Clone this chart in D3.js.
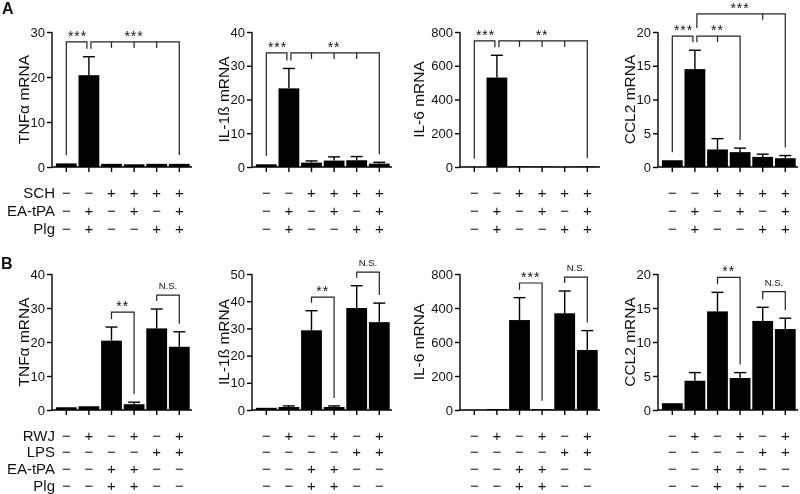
<!DOCTYPE html>
<html><head><meta charset="utf-8">
<script src="https://cdn.jsdelivr.net/npm/d3@7"></script>
<style>body{margin:0;background:#fff} svg{will-change:transform} svg text{font-family:Arial,"Liberation Sans",Helvetica,sans-serif;fill:#111}</style>
</head><body><svg id="c" width="800" height="494"></svg>
<script>
// ---------- data ----------
const genes = ["TNFα mRNA", "IL-1ß mRNA", "IL-6 mRNA", "CCL2 mRNA"];
const barIds = [0, 1, 2, 3, 4, 5];

// Panel A: means and upper error limits (mean + SEM)
const A_tnf  = [0.8, 20.4, 0.7, 0.6, 0.7, 0.7];
const A_tnfE = [0.85, 24.5, 0.8, 0.7, 0.8, 0.9];
const A_il1b  = [0.8, 23.3, 1.3, 1.9, 2.0, 1.0];
const A_il1bE = [0.9, 29.2, 1.8, 3.0, 3.1, 1.4];
const A_il6  = [1, 530, 4, 3, 2, 3];
const A_il6E = [1.5, 662, 6, 5, 3, 4];
const A_ccl2  = [1.0, 14.5, 2.6, 2.2, 1.5, 1.3];
const A_ccl2E = [1.0, 17.3, 4.2, 2.8, 1.9, 1.7];

// Panel B
const B_tnf  = [0.8, 1.1, 20.4, 1.7, 24.0, 18.6];
const B_tnfE = [0.8, 1.3, 24.4, 2.3, 29.7, 23.0];
const B_il1b  = [0.8, 1.1, 29.3, 1.1, 37.5, 32.3];
const B_il1bE = [0.8, 1.5, 36.5, 1.5, 45.7, 39.3];
const B_il6  = [1, 6, 529, 5, 569, 353];
const B_il6E = [1, 8, 661, 7, 700, 467];
const B_ccl2  = [1.0, 4.3, 14.5, 4.7, 13.1, 11.9];
const B_ccl2E = [1.0, 5.5, 17.3, 5.5, 15.1, 13.5];

// axis ticks
const A_ticks = [[0,10,20,30],[0,10,20,30,40],[0,200,400,600,800],[0,5,10,15,20]];
const B_ticks = [[0,10,20,30,40],[0,10,20,30,40,50],[0,200,400,600,800],[0,5,10,15,20]];
const B_tickLabels = [null, null, ["0","200","600","400","800"], null];

// treatment tables
const A_rows = ["SCH", "EA-tPA", "Plg"];
const A_signs = [["−","−","+","+","+","+"],["−","+","−","+","−","+"],["−","+","−","−","+","+"]];
const B_rows = ["RWJ", "LPS", "EA-tPA", "Plg"];
const B_signs = [["−","+","−","+","−","+"],["−","−","−","−","+","+"],["−","−","+","+","−","−"],["−","−","+","+","−","−"]];

// significance brackets (bar indices, level in data units)
const A_brackets = [
  [{from:0,to:1,ticks:[],level:27.8,label:"***"},{from:1,to:5,ticks:[2,3,4],level:27.8,label:"***"}],
  [{from:0,to:1,ticks:[],level:33.8,label:"***"},{from:1,to:5,ticks:[2,3,4],level:33.8,label:"**"}],
  [{from:0,to:1,ticks:[],level:747,label:"***"},{from:1,to:5,ticks:[2,3,4],level:747,label:"**"}],
  [{from:0,to:1,ticks:[],level:19.4,label:"***"},{from:1,to:3,ticks:[2],level:19.4,label:"**"},{from:1,to:5,ticks:[4],level:22.7,label:"***"}]
];
const B_brackets = [
  [{from:2,to:3,ticks:[],level:28.8,label:"**"},{from:4,to:5,ticks:[],level:33.8,label:"N.S."}],
  [{from:2,to:3,ticks:[],level:41.5,label:"**"},{from:4,to:5,ticks:[],level:50.7,label:"N.S."}],
  [{from:2,to:3,ticks:[],level:747,label:"***"},{from:4,to:5,ticks:[],level:782,label:"N.S."}],
  [{from:2,to:3,ticks:[],level:19.5,label:"**"},{from:4,to:5,ticks:[],level:17.4,label:"N.S."}]
];

// ---------- drawing ----------
const svg = d3.select("#c");
const panelX = [52, 252, 460, 658];

function drawPanel(p, cfg) {
  const x0 = panelX[p];
  const g = svg.append("g");
  const x = d3.scaleBand().domain(barIds).range([x0 + 3, x0 + 138.6]).paddingInner(0.08).paddingOuter(0.04);
  const ticks = cfg.ticks;
  const yMax = ticks[ticks.length - 1];
  const y = d3.scaleLinear().domain([0, yMax]).range([cfg.y0, cfg.yTop]);

  // bars
  g.selectAll("rect.bar").data(cfg.mean).join("rect")
    .attr("x", (d, i) => x(i)).attr("width", x.bandwidth())
    .attr("y", d => y(d)).attr("height", d => y(0) - y(d)).attr("fill", "#000");
  // error bars
  const eg = g.append("g").attr("stroke", "#000").attr("stroke-width", 1.4);
  cfg.err.forEach((e, i) => {
    const cx = x(i) + x.bandwidth() / 2;
    if (y(cfg.mean[i]) - y(e) < 1) return;
    eg.append("line").attr("x1", cx).attr("x2", cx).attr("y1", y(cfg.mean[i])).attr("y2", y(e));
    eg.append("line").attr("x1", cx - 6).attr("x2", cx + 6).attr("y1", y(e)).attr("y2", y(e));
  });

  // y axis
  const labels = cfg.tickLabels;
  const ya = g.append("g").attr("transform", `translate(${x0},0)`)
    .call(d3.axisLeft(y).tickValues(ticks).tickSize(5).tickSizeOuter(0).tickPadding(2)
      .tickFormat((d, i) => labels ? labels[i] : d3.format("d")(d)));
  ya.selectAll("path,line").attr("stroke", "#000").attr("stroke-width", 1.4);
  ya.selectAll("text").attr("font-size", 13).attr("fill", "#111");
  ya.select(".domain").attr("d", `M0,${y(yMax)}V${y(0)}`);
  // x axis
  const xa = g.append("g").attr("transform", `translate(0,${y(0)})`)
    .call(d3.axisBottom(x).tickSize(5).tickFormat(""));
  xa.select(".domain").remove();
  xa.selectAll("line").attr("stroke", "#000").attr("stroke-width", 1.4);
  g.append("line").attr("x1", x0).attr("x2", x0 + 140).attr("y1", y(0)).attr("y2", y(0))
    .attr("stroke", "#000").attr("stroke-width", 1.4);

  // y label
  const digits = String(yMax).length;
  const lx = x0 - (digits >= 3 ? 42 : 29);
  const ly = (y(0) + y(yMax)) / 2;
  g.append("text").attr("transform", `translate(${lx},${ly}) rotate(-90)`)
    .attr("text-anchor", "middle").attr("dominant-baseline", "central")
    .attr("font-size", 15.5).text(genes[p]);

  // brackets
  const bg = g.append("g").attr("stroke", "#222").attr("stroke-width", 1.2).attr("fill", "none");
  const cxOf = i => x(i) + x.bandwidth() / 2;
  cfg.brackets.forEach(b => {
    const by = y(b.level);
    const endX = (k, side) => {
      let c = cxOf(k);
      if (cfg.apex !== undefined && k === cfg.apex) c += side === "from" ? 2 : -2;
      return c;
    };
    const dropTo = k => {
      let t = y(cfg.err[k]) - 8;
      cfg.brackets.forEach(o => {
        if (o !== b && o.level < b.level && o.from <= k && o.to >= k) t = Math.min(t, y(o.level) - 8);
      });
      return t;
    };
    const xa1 = endX(b.from, "from"), xb1 = endX(b.to, "to");
    bg.append("path").attr("d", `M${xa1},${dropTo(b.from)}V${by}H${xb1}V${dropTo(b.to)}`);
    b.ticks.forEach(k => bg.append("line").attr("x1", cxOf(k)).attr("x2", cxOf(k)).attr("y1", by).attr("y2", by + 6));
    const mid = (cxOf(b.from) + cxOf(b.to)) / 2;
    const isNS = b.label === "N.S.";
    g.append("text").attr("x", mid).attr("y", isNS ? by - 6 : by - 1)
      .attr("text-anchor", "middle").attr("font-size", isNS ? 9.5 : 14)
      .attr("letter-spacing", isNS ? 0 : 1).text(b.label);
  });

  // treatment table
  cfg.signs.forEach((row, r) => {
    const ry = cfg.rowY + r * cfg.rowStep;
    row.forEach((s, i) => {
      g.append("text").attr("x", cxOf(i)).attr("y", ry).attr("text-anchor", "middle")
        .attr("dominant-baseline", "central").attr("font-size", 15).text(s);
    });
    if (p === 0) {
      g.append("text").attr("x", 55).attr("y", ry).attr("text-anchor", "end")
        .attr("dominant-baseline", "central").attr("font-size", 15).text(cfg.rows[r]);
    }
  });
}

const A_means = [A_tnf, A_il1b, A_il6, A_ccl2], A_errs = [A_tnfE, A_il1bE, A_il6E, A_ccl2E];
const B_means = [B_tnf, B_il1b, B_il6, B_ccl2], B_errs = [B_tnfE, B_il1bE, B_il6E, B_ccl2E];
for (let p = 0; p < 4; p++) {
  drawPanel(p, {mean: A_means[p], err: A_errs[p], ticks: A_ticks[p], tickLabels: null,
    y0: 167, yTop: 32, brackets: A_brackets[p], apex: 1, signs: A_signs, rows: A_rows, rowY: 192, rowStep: 18});
  drawPanel(p, {mean: B_means[p], err: B_errs[p], ticks: B_ticks[p], tickLabels: B_tickLabels[p],
    y0: 410, yTop: 274, brackets: B_brackets[p], signs: B_signs, rows: B_rows, rowY: 435, rowStep: 16.8});
}
svg.append("text").attr("x", 2).attr("y", 14).attr("font-size", 16).attr("font-weight", "bold").text("A");
svg.append("text").attr("x", 1).attr("y", 269).attr("font-size", 16).attr("font-weight", "bold").text("B");
</script></body></html>
